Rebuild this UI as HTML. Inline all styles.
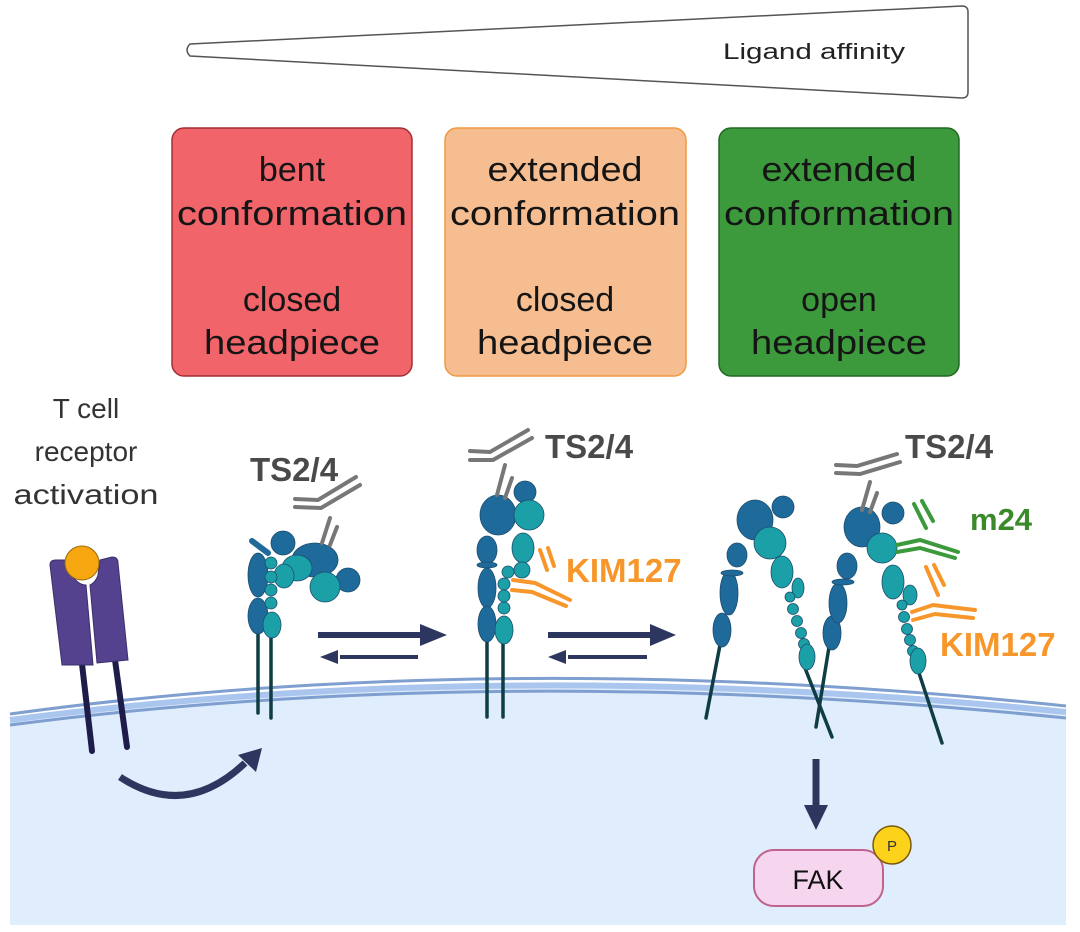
<!DOCTYPE html>
<html><head><meta charset="utf-8"><style>
html,body{margin:0;padding:0;background:#fff;}
svg{display:block;}
text{font-family:"Liberation Sans",sans-serif;}
</style></head><body>
<svg width="1080" height="932" viewBox="0 0 1080 932" xmlns="http://www.w3.org/2000/svg">
<!-- cell -->
<path d="M10,720 Q500,655 1066,712 L1066,925 L10,925 Z" fill="#e0edfc"/>
<path d="M10,714 Q500,647 1066,706" fill="none" stroke="#7f9fd0" stroke-width="3"/>
<path d="M10,720 Q500,655 1066,712" fill="none" stroke="#aac6ef" stroke-width="6"/>
<path d="M10,725 Q500,661 1066,718" fill="none" stroke="#7f9fd0" stroke-width="3"/>

<!-- ligand affinity wedge -->
<path d="M190,44 L962,6 Q968,6 968,12 L968,92 Q968,98 962,98 L190,56 Q184,50 190,44 Z" fill="#fff" stroke="#555" stroke-width="1.5"/>
<text x="723" y="59" font-size="22" fill="#222" textLength="182" lengthAdjust="spacingAndGlyphs">Ligand affinity</text>

<!-- boxes -->
<rect x="172" y="128" width="240" height="248" rx="12" fill="#f0646a" stroke="#a03036" stroke-width="1.5"/>
<rect x="445" y="128" width="241" height="248" rx="12" fill="#f6bd90" stroke="#ef9a40" stroke-width="1.5"/>
<rect x="719" y="128" width="240" height="248" rx="12" fill="#3c9a3c" stroke="#1f6a22" stroke-width="1.5"/>
<g font-size="34" fill="#151515" text-anchor="middle">
<text x="292" y="181">bent</text>
<text x="292" y="225" textLength="230" lengthAdjust="spacingAndGlyphs">conformation</text>
<text x="292" y="311">closed</text>
<text x="292" y="354" textLength="176" lengthAdjust="spacingAndGlyphs">headpiece</text>
<text x="565" y="181" textLength="155" lengthAdjust="spacingAndGlyphs">extended</text>
<text x="565" y="225" textLength="230" lengthAdjust="spacingAndGlyphs">conformation</text>
<text x="565" y="311">closed</text>
<text x="565" y="354" textLength="176" lengthAdjust="spacingAndGlyphs">headpiece</text>
<text x="839" y="181" textLength="155" lengthAdjust="spacingAndGlyphs">extended</text>
<text x="839" y="225" textLength="230" lengthAdjust="spacingAndGlyphs">conformation</text>
<text x="839" y="311">open</text>
<text x="839" y="354" textLength="176" lengthAdjust="spacingAndGlyphs">headpiece</text>
</g>

<!-- T cell text -->
<g font-size="28" fill="#333" text-anchor="middle">
<text x="86" y="418">T cell</text>
<text x="86" y="461">receptor</text>
<text x="86" y="504" textLength="145" lengthAdjust="spacingAndGlyphs">activation</text>
</g>

<!-- TCR -->
<g stroke="#1e1d4a" stroke-width="6" stroke-linecap="round">
<line x1="82" y1="664" x2="92" y2="751"/>
<line x1="115" y1="660" x2="127" y2="747"/>
</g>
<path d="M50,565 Q50,560 56,560 L66,560 L72,575 Q78,585 86,585 L93,665 L62,665 Z" fill="#54428e" stroke="#3a2f6a" stroke-width="1"/>
<path d="M100,560 L112,557 Q118,557 118,563 L128,660 L97,663 L90,585 Q96,582 98,575 Z" fill="#54428e" stroke="#3a2f6a" stroke-width="1"/>
<circle cx="82" cy="563" r="17" fill="#f7a710" stroke="#9a6a10" stroke-width="1"/>

<!-- curved arrow -->
<path d="M120,777 Q185,820 245,763" fill="none" stroke="#2d365f" stroke-width="7"/>
<polygon points="262,748 238,755 256,772" fill="#2d365f"/>

<!-- equilibrium arrows -->
<g fill="#2d365f" stroke="#2d365f">
<line x1="318" y1="635" x2="425" y2="635" stroke-width="6"/>
<polygon points="447,635 420,624 420,646" stroke="none"/>
<line x1="340" y1="657" x2="418" y2="657" stroke-width="4"/>
<polygon points="320,657 338,650 338,664" stroke="none"/>
<line x1="548" y1="635" x2="655" y2="635" stroke-width="6"/>
<polygon points="676,635 650,624 650,646" stroke="none"/>
<line x1="568" y1="657" x2="647" y2="657" stroke-width="4"/>
<polygon points="548,657 566,650 566,664" stroke="none"/>
</g>

<!-- down arrow, FAK -->
<line x1="816" y1="759" x2="816" y2="808" stroke="#2d365f" stroke-width="7"/>
<polygon points="804,805 828,805 816,830" fill="#2d365f"/>
<rect x="754" y="850" width="129" height="56" rx="20" fill="#f5d6ee" stroke="#c0648e" stroke-width="2"/>
<text x="818" y="889" font-size="27" fill="#111" text-anchor="middle">FAK</text>
<circle cx="892" cy="845" r="19" fill="#fcd21a" stroke="#7a5a10" stroke-width="1.5"/>
<text x="892" y="851" font-size="15" fill="#333" text-anchor="middle">P</text>

<!-- Integrin 1 (bent) -->
<g stroke="#0e3d44" stroke-width="3.5" stroke-linecap="round">
<line x1="258" y1="625" x2="258" y2="713"/>
<line x1="271" y1="630" x2="271" y2="718"/>
</g>
<g stroke="#1d4d6e" stroke-width="0.8">
<ellipse cx="258" cy="575" rx="10" ry="22" fill="#1e6a9a"/>
<ellipse cx="258" cy="616" rx="10" ry="18" fill="#1e6a9a"/>
<line x1="252" y1="541" x2="268" y2="553" stroke="#1e6a9a" stroke-width="6" stroke-linecap="round"/>
<ellipse cx="315" cy="560" rx="23" ry="17" fill="#1e6a9a"/>
<circle cx="283" cy="543" r="12" fill="#1e6a9a"/>
<circle cx="348" cy="580" r="12" fill="#1e6a9a"/>
<ellipse cx="297" cy="568" rx="15" ry="13" fill="#1aa0a6"/>
<circle cx="325" cy="587" r="15" fill="#1aa0a6"/>
<ellipse cx="284" cy="576" rx="10" ry="12" fill="#1aa0a6"/>
<circle cx="271" cy="563" r="6" fill="#1aa0a6"/>
<circle cx="271" cy="577" r="6" fill="#1aa0a6"/>
<circle cx="271" cy="590" r="6" fill="#1aa0a6"/>
<circle cx="271" cy="603" r="6" fill="#1aa0a6"/>
<ellipse cx="272" cy="625" rx="9" ry="13" fill="#1aa0a6"/>
</g>
<g stroke="#777" stroke-width="4" stroke-linecap="round" fill="none">
<line x1="322" y1="543" x2="330" y2="518"/>
<line x1="330" y1="545" x2="337" y2="527"/>
<polyline points="295,499 318,500 356,477"/>
<polyline points="295,507 321,508 360,485"/>
</g>
<text x="250" y="481" font-size="33" font-weight="bold" fill="#4a4a4a">TS2/4</text>

<!-- Integrin 2 -->
<g stroke="#0e3d44" stroke-width="3.5" stroke-linecap="round">
<line x1="487" y1="635" x2="487" y2="717"/>
<line x1="503" y1="640" x2="503" y2="717"/>
</g>
<g stroke="#1d4d6e" stroke-width="0.8">
<ellipse cx="487" cy="550" rx="10" ry="14" fill="#1e6a9a"/>
<ellipse cx="487" cy="565" rx="10" ry="3" fill="#1e6a9a"/>
<ellipse cx="487" cy="588" rx="9" ry="20" fill="#1e6a9a"/>
<ellipse cx="487" cy="624" rx="9" ry="18" fill="#1e6a9a"/>
<ellipse cx="498" cy="515" rx="18" ry="20" fill="#1e6a9a"/>
<circle cx="525" cy="492" r="11" fill="#1e6a9a"/>
<circle cx="529" cy="515" r="15" fill="#1aa0a6"/>
<ellipse cx="523" cy="548" rx="11" ry="15" fill="#1aa0a6"/>
<circle cx="522" cy="570" r="8" fill="#1aa0a6"/>
<circle cx="508" cy="572" r="6" fill="#1aa0a6"/>
<circle cx="504" cy="584" r="6" fill="#1aa0a6"/>
<circle cx="504" cy="596" r="6" fill="#1aa0a6"/>
<circle cx="504" cy="608" r="6" fill="#1aa0a6"/>
<ellipse cx="504" cy="630" rx="9" ry="14" fill="#1aa0a6"/>
</g>
<g stroke="#777" stroke-width="4" stroke-linecap="round" fill="none">
<line x1="497" y1="495" x2="505" y2="465"/>
<line x1="505" y1="498" x2="512" y2="478"/>
<polyline points="470,451 490,452 528,430"/>
<polyline points="470,460 493,460 532,438"/>
</g>
<text x="545" y="458" font-size="33" font-weight="bold" fill="#4a4a4a">TS2/4</text>
<g stroke="#f7962a" stroke-width="4" stroke-linecap="round" fill="none">
<polyline points="513,580 535,583 570,600"/>
<polyline points="512,590 532,592 566,606"/>
<line x1="540" y1="550" x2="547" y2="570"/>
<line x1="548" y1="548" x2="554" y2="566"/>
</g>
<text x="566" y="582" font-size="33" font-weight="bold" fill="#f7962a">KIM127</text>

<!-- Integrin 3 -->
<g stroke="#0e3d44" stroke-width="3.5" stroke-linecap="round">
<line x1="720" y1="645" x2="706" y2="718"/>
<line x1="805" y1="668" x2="832" y2="737"/>
</g>
<g stroke="#1d4d6e" stroke-width="0.8">
<ellipse cx="722" cy="630" rx="9" ry="17" fill="#1e6a9a"/>
<ellipse cx="729" cy="593" rx="9" ry="22" fill="#1e6a9a"/>
<ellipse cx="732" cy="573" rx="11" ry="3" fill="#1e6a9a"/>
<ellipse cx="737" cy="555" rx="10" ry="12" fill="#1e6a9a"/>
<ellipse cx="755" cy="520" rx="18" ry="20" fill="#1e6a9a"/>
<circle cx="783" cy="507" r="11" fill="#1e6a9a"/>
<circle cx="770" cy="543" r="16" fill="#1aa0a6"/>
<ellipse cx="782" cy="572" rx="11" ry="16" fill="#1aa0a6"/>
<ellipse cx="798" cy="588" rx="6" ry="10" fill="#1aa0a6"/>
<circle cx="790" cy="597" r="5" fill="#1aa0a6"/>
<circle cx="793" cy="609" r="5.5" fill="#1aa0a6"/>
<circle cx="797" cy="621" r="5.5" fill="#1aa0a6"/>
<circle cx="801" cy="633" r="5.5" fill="#1aa0a6"/>
<circle cx="804" cy="644" r="5.5" fill="#1aa0a6"/>
<ellipse cx="807" cy="657" rx="8" ry="13" fill="#1aa0a6"/>
</g>

<!-- Integrin 4 -->
<g stroke="#0e3d44" stroke-width="3.5" stroke-linecap="round">
<line x1="829" y1="647" x2="816" y2="727"/>
<line x1="918" y1="670" x2="942" y2="743"/>
</g>
<g stroke="#1d4d6e" stroke-width="0.8">
<ellipse cx="832" cy="633" rx="9" ry="17" fill="#1e6a9a"/>
<ellipse cx="838" cy="603" rx="9" ry="20" fill="#1e6a9a"/>
<ellipse cx="843" cy="582" rx="11" ry="3" fill="#1e6a9a"/>
<ellipse cx="847" cy="566" rx="10" ry="13" fill="#1e6a9a"/>
<ellipse cx="862" cy="527" rx="18" ry="20" fill="#1e6a9a"/>
<circle cx="893" cy="513" r="11" fill="#1e6a9a"/>
<circle cx="882" cy="548" r="15" fill="#1aa0a6"/>
<ellipse cx="893" cy="582" rx="11" ry="17" fill="#1aa0a6"/>
<ellipse cx="910" cy="595" rx="7" ry="10" fill="#1aa0a6"/>
<circle cx="902" cy="605" r="5" fill="#1aa0a6"/>
<circle cx="904" cy="617" r="5.5" fill="#1aa0a6"/>
<circle cx="907" cy="629" r="5.5" fill="#1aa0a6"/>
<circle cx="910" cy="640" r="5.5" fill="#1aa0a6"/>
<circle cx="913" cy="651" r="5.5" fill="#1aa0a6"/>
<ellipse cx="918" cy="661" rx="8" ry="13" fill="#1aa0a6"/>
</g>
<g stroke="#777" stroke-width="4" stroke-linecap="round" fill="none">
<line x1="862" y1="510" x2="870" y2="482"/>
<line x1="870" y1="512" x2="877" y2="493"/>
<polyline points="836,465 857,466 897,454"/>
<polyline points="836,473 860,474 900,462"/>
</g>
<text x="905" y="458" font-size="33" font-weight="bold" fill="#4a4a4a">TS2/4</text>
<g stroke="#3c9a3c" stroke-width="4" stroke-linecap="round" fill="none">
<polyline points="897,545 920,540 958,552"/>
<polyline points="897,552 920,548 955,558"/>
<line x1="914" y1="504" x2="926" y2="528"/>
<line x1="922" y1="501" x2="933" y2="521"/>
</g>
<text x="970" y="530" font-size="31" font-weight="bold" fill="#3a8a2a">m24</text>
<g stroke="#f7962a" stroke-width="4" stroke-linecap="round" fill="none">
<polyline points="912,612 933,605 975,610"/>
<polyline points="913,620 935,614 973,618"/>
<line x1="926" y1="567" x2="938" y2="595"/>
<line x1="934" y1="565" x2="944" y2="585"/>
</g>
<text x="940" y="656" font-size="33" font-weight="bold" fill="#f7962a">KIM127</text>
</svg>
</body></html>
